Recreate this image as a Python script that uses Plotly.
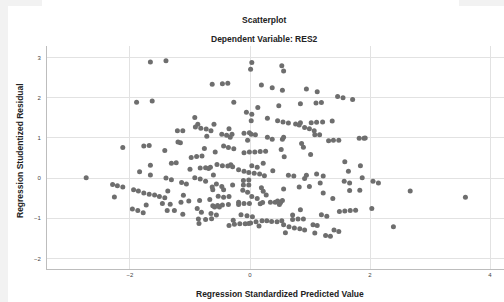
import plotly.graph_objects as go

# Regression Standardized Predicted Value (x) and Studentized Residual (y)
pred = [
 -1.66,-1.40,-1.89,-1.63,-2.12,-1.77,-1.68,-1.42,-1.31,-1.66,-1.84,-1.66,-2.73,-1.40,-1.31,-2.29,-2.21,-2.12,-2.26,-1.94,
 -1.86,-1.77,-1.68,-1.59,-1.51,-1.42,-1.37,-1.73,-1.46,-1.33,-1.96,-1.87,-1.78,-1.38,-1.26,
 0.03,0.01,-0.63,-0.46,-0.37,0.19,-0.27,0.13,-0.06,0.03,0.02,0.29,-0.92,-0.87,-0.91,-0.82,-0.73,-0.65,-0.60,-1.21,
 -1.12,-0.35,-0.47,-0.39,-0.30,-0.33,-0.72,-0.10,-0.01,0.02,0.09,-0.04,0.29,-1.20,-1.16,-0.44,-0.36,-0.27,-0.76,-0.10,
 -0.01,0.08,0.17,0.26,-0.58,-0.98,-0.89,-0.80,-1.23,-0.55,-0.46,-0.37,-0.29,-0.32,0.03,0.12,0.22,-1.00,-0.83,-0.74,
 -0.69,-0.66,-0.61,-0.19,-0.10,-0.02,0.07,0.16,0.24,-0.92,-0.83,-0.74,-1.14,-1.06,-0.63,-0.56,-0.47,-0.29,-0.11,-0.02,
 -0.11,-0.02,-0.62,-0.44,-0.12,-0.04,0.19,0.22,-1.11,-0.84,-0.67,-0.53,-0.44,-0.35,0.03,0.12,0.27,-1.15,-1.02,-1.12,
 -0.88,-0.81,-0.62,-0.59,-0.54,-0.46,-0.51,-0.36,-0.19,-0.19,-0.10,-0.01,0.17,0.21,-0.65,-0.56,-0.86,-0.85,-0.74,-0.64,
 -0.15,-0.05,0.04,-0.28,-0.35,-0.26,-0.17,-0.08,-0.02,0.01,0.10,0.15,0.20,0.28,
 0.53,0.56,0.37,0.54,0.94,1.12,1.46,1.55,1.71,0.48,0.84,1.10,1.19,0.46,0.55,0.64,0.76,0.82,0.84,0.91,
 0.99,1.02,1.11,1.21,1.37,1.07,1.08,1.16,0.37,0.54,0.56,1.31,1.39,1.48,1.82,1.90,0.52,0.57,0.86,0.89,
 1.01,1.58,1.64,1.84,0.38,0.64,0.73,0.94,0.91,1.11,1.22,1.87,1.57,1.66,1.17,0.56,0.82,0.99,1.22,1.38,
 1.66,1.83,0.34,0.42,0.46,0.51,0.54,0.49,0.84,0.71,1.49,1.58,1.67,1.76,1.19,1.28,0.36,0.45,0.53,0.56,
 0.71,0.80,0.89,0.65,0.74,0.83,0.91,0.59,1.05,1.12,1.08,1.26,1.34,1.40,1.48,
 1.92,2.05,2.14,2.67,3.59,2.03,2.39,
]
resid = [
 2.89,2.92,1.89,1.92,0.76,0.80,0.81,0.69,0.37,0.32,0.16,0.08,0.01,0.00,-0.04,-0.16,-0.19,-0.22,-0.47,-0.29,
 -0.32,-0.37,-0.40,-0.42,-0.46,-0.49,-0.32,-0.67,-0.63,-0.65,-0.77,-0.81,-0.86,-0.81,-0.81,
 2.88,2.71,2.34,2.35,2.36,2.32,1.89,1.76,1.64,1.59,1.43,1.49,1.51,1.34,1.27,1.24,1.22,1.18,1.34,1.18,
 1.18,1.23,1.09,1.07,1.09,1.02,1.04,1.12,1.13,1.09,1.08,0.94,1.02,0.90,0.88,0.80,0.76,0.73,0.74,0.63,
 0.65,0.65,0.66,0.67,0.65,0.51,0.54,0.55,0.38,0.34,0.31,0.30,0.28,0.33,0.31,0.27,0.37,0.22,0.25,0.26,
 0.24,0.27,0.08,0.21,0.17,0.14,0.12,0.10,0.06,0.01,-0.02,-0.08,-0.11,-0.15,-0.22,-0.15,-0.21,-0.17,-0.06,-0.05,
 -0.17,-0.17,-0.29,-0.29,-0.30,-0.35,-0.24,-0.33,-0.43,-0.56,-0.53,-0.45,-0.48,-0.46,-0.46,-0.51,-0.42,-0.60,-0.57,-0.90,
 -0.76,-0.85,-0.69,-0.72,-0.68,-0.67,-0.72,-0.66,-0.60,-0.66,-0.63,-0.63,-0.64,-0.61,-0.88,-0.92,-1.02,-1.13,-1.03,-1.01,
 -0.91,-0.94,-0.96,-1.05,-1.18,-1.15,-1.14,-1.14,-1.13,-1.12,-1.09,-1.19,-1.06,-1.06,
 2.80,2.67,2.25,2.19,2.22,2.15,2.03,2.00,1.96,1.80,1.85,1.87,1.88,1.43,1.40,1.37,1.35,1.32,1.38,1.26,
 1.23,1.38,1.39,1.40,1.42,1.18,1.08,1.08,0.97,0.97,1.02,0.93,0.94,0.94,0.99,0.99,0.71,0.53,0.86,0.77,
 0.59,0.41,0.17,0.31,0.18,0.07,0.05,0.07,-0.01,0.10,0.05,0.01,-0.08,-0.12,-0.12,-0.27,-0.22,-0.21,-0.37,-0.51,
 -0.31,-0.30,-0.60,-0.60,-0.57,-0.61,-0.56,-0.66,-0.79,-0.92,-0.83,-0.82,-0.81,-0.80,-0.91,-0.95,-1.08,-1.09,-1.06,-1.16,
 -1.03,-1.02,-1.02,-1.21,-1.24,-1.26,-1.29,-1.36,-1.16,-1.18,-1.37,-1.43,-1.45,-1.29,-1.33,
 1.00,-0.08,-0.12,-0.32,-0.48,-0.76,-1.21,
]

x_ticks = [-2, 0, 2, 4]
y_ticks = [-2, -1, 0, 1, 2, 3]

title_text = "Scatterplot"
subtitle_text = "Dependent Variable: RES2"
x_title = "Regression Standardized Predicted Value"
y_title = "Regression Studentized Residual"

FONT = "Liberation Sans, Arial, sans-serif"

fig = go.Figure()
fig.add_trace(go.Scatter(
    x=pred, y=resid, mode="markers",
    marker=dict(size=5, color="#6e6e6e", line=dict(width=0)),
    hoverinfo="skip", showlegend=False,
))

axis_common = dict(
    showgrid=True, gridcolor="#e2e2e2", gridwidth=1,
    zeroline=False, showline=True, linecolor="#bdbdbd", linewidth=1,
    ticks="", tickfont=dict(family=FONT, size=6, color="#444444"),
)

fig.update_layout(
    width=504, height=302,
    margin=dict(l=47, r=0, t=46, b=33),
    paper_bgcolor="#f2f2f2",
    plot_bgcolor="white",
    font=dict(family=FONT),
    xaxis=dict(range=[-3.383, 4.233], tickvals=x_ticks, **axis_common),
    yaxis=dict(range=[-2.264, 3.29], tickvals=y_ticks, ticklabelstandoff=4, **axis_common),
    shapes=[
        dict(type="rect", xref="paper", yref="paper",
             x0=-39/457, x1=457/457, y0=-33/223, y1=(223+40)/223,
             fillcolor="white", line=dict(width=0), layer="below"),
        dict(type="rect", xref="paper", yref="paper",
             x0=-5/457, x1=412/457, y0=(223+40)/223, y1=(223+46)/223,
             fillcolor="white", line=dict(width=0), layer="below"),
    ],
    annotations=[
        dict(text="<b>" + title_text + "</b>", xref="paper", yref="paper",
             x=(264-47)/457, y=1, yshift=26, showarrow=False,
             xanchor="center", yanchor="middle",
             font=dict(family=FONT, size=8.5, color="#222222")),
        dict(text="<b>" + subtitle_text + "</b>", xref="paper", yref="paper",
             x=(264-47)/457, y=1, yshift=7, showarrow=False,
             xanchor="center", yanchor="middle",
             font=dict(family=FONT, size=8.5, color="#222222")),
        dict(text="<b>" + x_title + "</b>", xref="paper", yref="paper",
             x=(280-47)/457, y=0, yshift=-25, showarrow=False,
             xanchor="center", yanchor="middle",
             font=dict(family=FONT, size=8.5, color="#222222")),
        dict(text="<b>" + y_title + "</b>", xref="paper", yref="paper",
             x=0, xshift=-27, y=(269-151)/223, showarrow=False, textangle=-90,
             xanchor="center", yanchor="middle",
             font=dict(family=FONT, size=8.5, color="#222222")),
    ],
)

fig.write_html(
    "out.html",
    config={"displayModeBar": False, "staticPlot": True},
    post_script="document.body.style.margin='0';document.body.style.overflow='hidden';",
)
